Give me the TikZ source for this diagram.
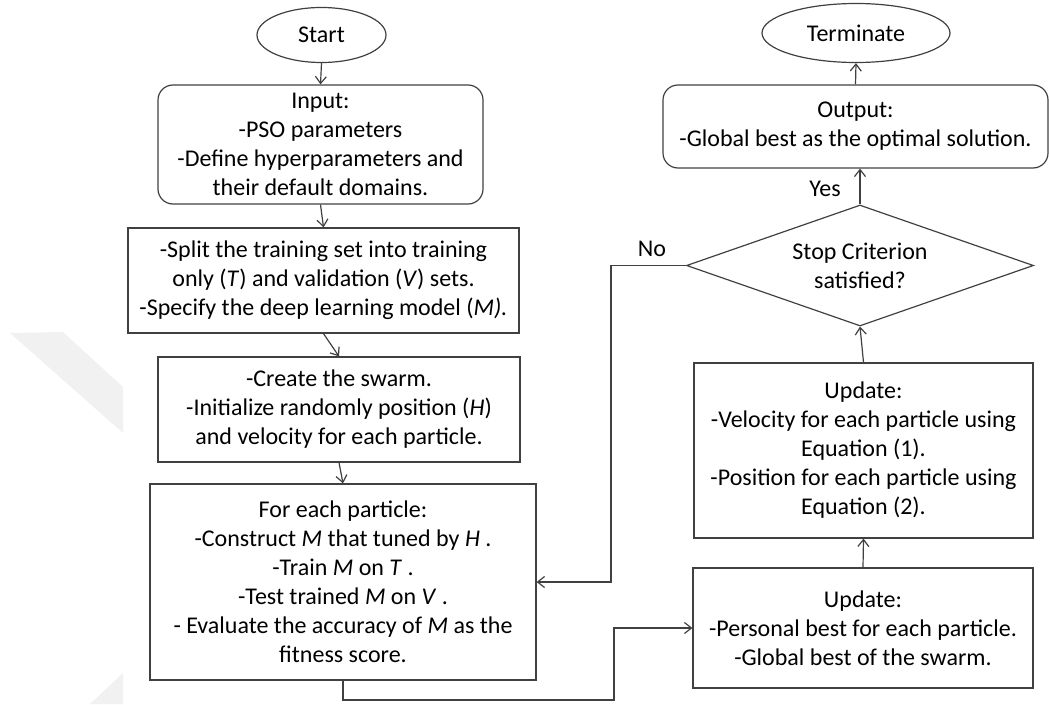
\documentclass[tikz,border=0pt]{standalone}
\usepackage{fontspec}
\setmainfont{Carlito}
\usetikzlibrary{shapes.geometric,arrows.meta}
\definecolor{linegray}{HTML}{404040}
\definecolor{wm}{HTML}{F1F1F1}
\tikzset{
  base/.style={draw=linegray, line width=1.2pt, align=center, inner sep=0pt,
    font={\fontsize{24}{29}\selectfont}, text=black},
  boxnode/.style={base, rectangle},
  roundnode/.style={base, rectangle, rounded corners=15pt},
  ovalnode/.style={base, ellipse},
  decision/.style={base, diamond, shape aspect=2.868},
  lbl/.style={font={\fontsize{24}{29}\selectfont}, inner sep=0pt},
  arr/.style={draw=linegray, line width=1.2pt, -{Straight Barb[length=7pt,width=11pt]}},
}
\begin{document}
\begin{tikzpicture}[x=1pt,y=-1pt]
\useasboundingbox (0,0) rectangle (1049,704);
% faint watermark
\fill[wm] (10,333) -- (63,332) -- (123,387) -- (123,433) -- cycle;
\fill[wm] (90,704) -- (123,673) -- (123,704) -- cycle;

\node[ovalnode, minimum width=129pt, minimum height=55pt] (start) at (321.5,35) {Start};
\node[roundnode, minimum width=325pt, minimum height=119pt] (input) at (320.5,144.5)
  {Input:\\-PSO parameters\\-Define hyperparameters and\\their default domains.};
\node[boxnode, minimum width=391pt, minimum height=105pt] (split) at (323.5,280.5)
  {-Split the training set into training\\only (\textit{T}) and validation (\textit{V}) sets.\\-Specify the deep learning model (\textit{M).}};
\node[boxnode, minimum width=362pt, minimum height=105pt] (create) at (339,409.5)
  {-Create the swarm.\\-Initialize randomly position (\textit{H})\\and velocity for each particle.};
\node[boxnode, minimum width=386pt, minimum height=196pt] (foreach) at (343,582)
  {For each particle:\\-Construct \textit{M} that tuned by \textit{H} .\\-Train \textit{M} on \textit{T} .\\-Test trained \textit{M} on \textit{V} .\\- Evaluate the accuracy of \textit{M} as the\\fitness score.};
\node[boxnode, minimum width=340pt, minimum height=120pt] (upd2) at (863,628)
  {Update:\\-Personal best for each particle.\\-Global best of the swarm.};
\node[boxnode, minimum width=339pt, minimum height=175pt] (upd1) at (863.5,450.5)
  {Update:\\-Velocity for each particle using\\Equation (1).\\-Position for each particle using\\Equation (2).};
\node[decision, minimum width=347pt, minimum height=121pt] (stop) at (860,265.5)
  {Stop Criterion\\satisfied?};
\node[roundnode, minimum width=385pt, minimum height=83pt] (output) at (855.5,126.5)
  {Output:\\-Global best as the optimal solution.};
\node[ovalnode, minimum width=188pt, minimum height=59pt] (term) at (856,33) {Terminate};

\node[lbl] (yes) at (825,189) {Yes};
\node[lbl] (no) at (652,249) {No};

\coordinate (cb) at (614,700);
\coordinate (cn) at (611,265.5);

\draw[arr] (start.south) -- (input.north);
\draw[arr] (input.south) -- (split.north);
\draw[arr] (split.south) -- (create.north);
\draw[arr] (create.south) -- (foreach.north);
\draw[arr] (foreach.south) |- (cb) |- (upd2.west);
\draw[arr] (upd2.north) -- (upd1.south);
\draw[arr] (upd1.north) -- (stop.south);
\draw[arr] (stop.north) -- (stop.north |- output.south);
\draw[arr] (output.north) -- (term.south);
\draw[arr] (stop.west) -- (cn) |- (foreach.east);
\end{tikzpicture}
\end{document}
